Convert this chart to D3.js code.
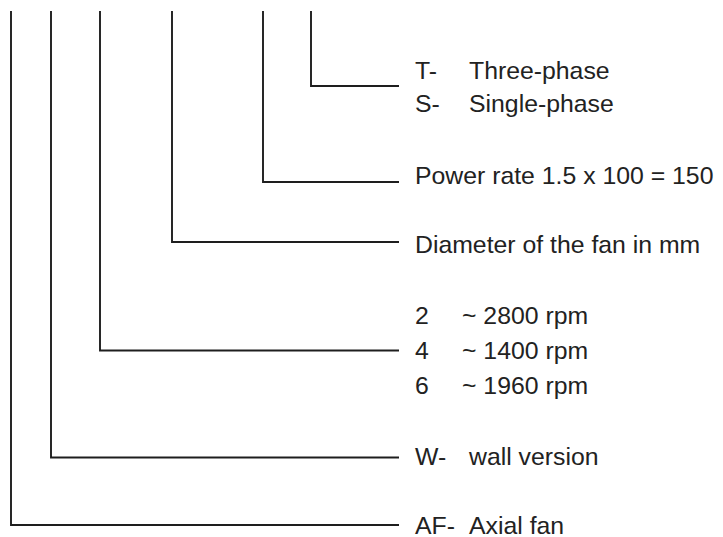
<!DOCTYPE html>
<html>
<head>
<meta charset="utf-8">
<script src="https://cdn.jsdelivr.net/npm/d3@7"></script>
<style>
  body { margin: 0; background: #fff; }
  text { font-family: "Liberation Sans", Arial, sans-serif; font-size: 24.8px; fill: #222; }
</style>
</head>
<body>
<div id="code"></div>
<script>
// code segments, read from right to left in the type key
var items = ["phase", "power", "diameter", "speed", "version", "type"];

var phaseRows = [["T-", "Three-phase"], ["S-", "Single-phase"]];
var powerRows = [["Power rate 1.5 x 100 = 150", ""]];
var diameterRows = [["Diameter of the fan in mm", ""]];
var speedRows = [["2", "~ 2800 rpm"], ["4", "~ 1400 rpm"], ["6", "~ 1960 rpm"]];
var versionRows = [["W-", "wall version"]];
var typeRows = [["AF-", "Axial fan"]];

var rowsByItem = {
  phase: phaseRows, power: powerRows, diameter: diameterRows,
  speed: speedRows, version: versionRows, type: typeRows
};

var svgWidth = 723,
    svgHeight = 537;

var svg = d3.select("#code")
    .append("svg")
    .attr("width", svgWidth)
    .attr("height", svgHeight);

// layout of the brackets
var stemX = d3.scaleOrdinal().domain(items).range([311, 263, 172, 100, 51, 11]);
var armY = d3.scaleOrdinal().domain(items).range([86, 182, 242, 350.5, 457.5, 525]);
var textY = d3.scaleOrdinal().domain(items).range([78.5, 183.5, 252.5, 323.5, 465, 533.5]);
var rowStep = d3.scaleOrdinal().domain(items).range([33, 0, 0, 35, 0, 0]);
var secondX = d3.scaleOrdinal().domain(items).range([469, 469, 469, 462, 469, 469]);

var topY = 11,
    armEnd = 399,
    textX = 415;

svg.append("g")
  .selectAll("path")
  .data(items)
  .enter()
  .append("path")
    .attr("d", function(d) {
      return "M" + stemX(d) + "," + topY + "V" + armY(d) + "H" + armEnd;
    })
    .attr("fill", "none")
    .attr("stroke", "#1e1e1e")
    .attr("stroke-width", 1.9);

items.forEach(function(d) {
  var g = svg.append("g");
  var rows = rowsByItem[d];
  rows.forEach(function(r, i) {
    var y = textY(d) + i * rowStep(d);
    g.append("text").attr("x", textX).attr("y", y).text(r[0]);
    if (r[1]) g.append("text").attr("x", secondX(d)).attr("y", y).text(r[1]);
  });
});
</script>
</body>
</html>
